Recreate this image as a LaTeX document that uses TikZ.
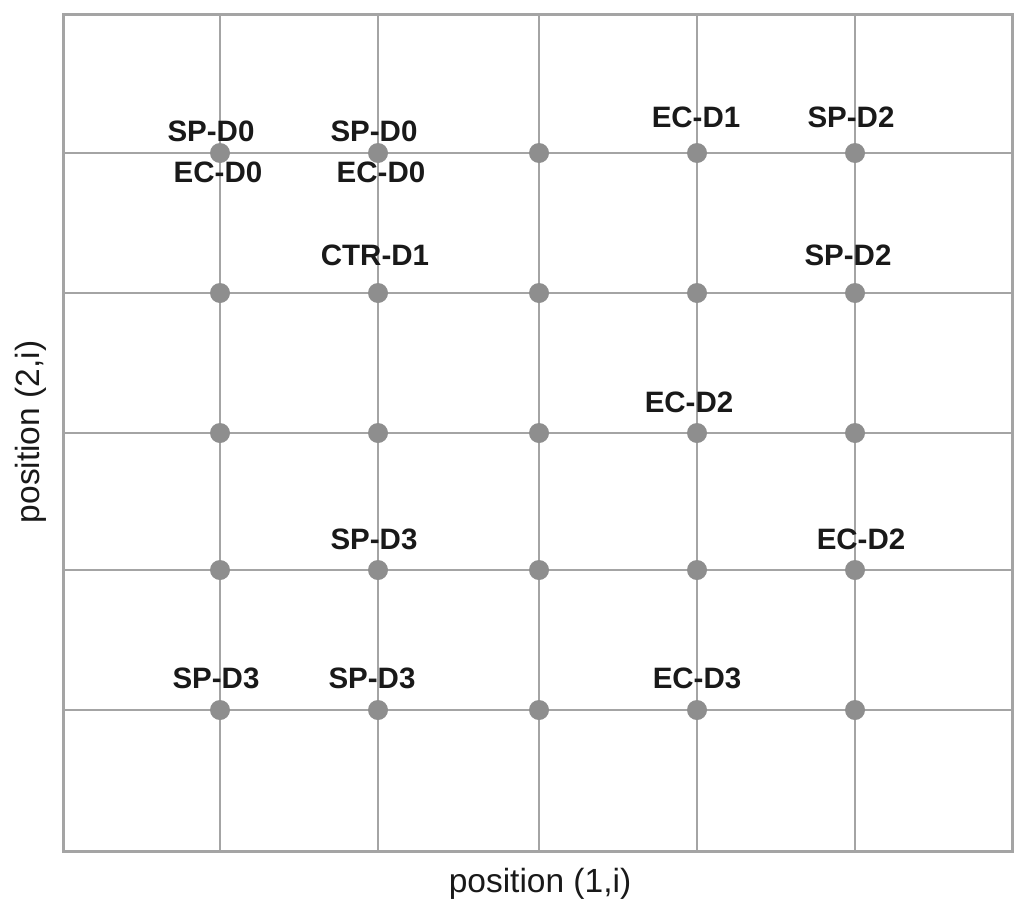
\documentclass[tikz,border=0pt]{standalone}
\usepackage{fontspec}
\setmainfont{Liberation Sans}
\definecolor{gridgray}{HTML}{A4A4A4}
\definecolor{dotgray}{HTML}{8E8E8E}
\tikzset{
  gridline/.style={draw=gridgray, line width=2pt},
  frameline/.style={draw=gridgray, line width=3pt},
  gdot/.style={circle, fill=dotgray, minimum size=20pt, inner sep=0pt},
  lbl/.style={font=\fontsize{29.5}{34}\selectfont\bfseries, inner sep=0pt, text=black!90},
  axlbl/.style={font=\fontsize{33.5}{38}\selectfont, inner sep=0pt, text=black!90}
}
\begin{document}
\begin{tikzpicture}[x=1pt,y=-1pt]
\useasboundingbox (0,0) rectangle (1024,910);
% grid lines
\foreach \gx in {220,378,539,697,855} {
  \draw[gridline] (\gx,14) -- (\gx,851);
}
\foreach \gy in {153,293,433,570,710} {
  \draw[gridline] (63,\gy) -- (1012,\gy);
}
\draw[frameline] (63,14) rectangle (1012,851);
% dots
\foreach \gx [count=\i] in {220,378,539,697,855} {
  \foreach \gy [count=\j] in {153,293,433,570,710} {
    \node[gdot] (d\i\j) at (\gx,\gy) {};
  }
}
% labels
\node[lbl] (l1) at (211,131) {SP-D0};
\node[lbl] (l2) at (218,172) {EC-D0};
\node[lbl] (l3) at (374,131) {SP-D0};
\node[lbl] (l4) at (381,172) {EC-D0};
\node[lbl] (l5) at (375,255) {CTR-D1};
\node[lbl] (l6) at (696,117) {EC-D1};
\node[lbl] (l7) at (851,117) {SP-D2};
\node[lbl] (l8) at (848,255) {SP-D2};
\node[lbl] (l9) at (689,402) {EC-D2};
\node[lbl] (l10) at (374,539) {SP-D3};
\node[lbl] (l11) at (861,539) {EC-D2};
\node[lbl] (l12) at (216,678) {SP-D3};
\node[lbl] (l13) at (372,678) {SP-D3};
\node[lbl] (l14) at (697,678) {EC-D3};
% axis labels
\node[axlbl] (xl) at (540,884) {position (1,i)};
\node[axlbl, rotate=90] (yl) at (31,432) {position (2,i)};
\end{tikzpicture}
\end{document}
